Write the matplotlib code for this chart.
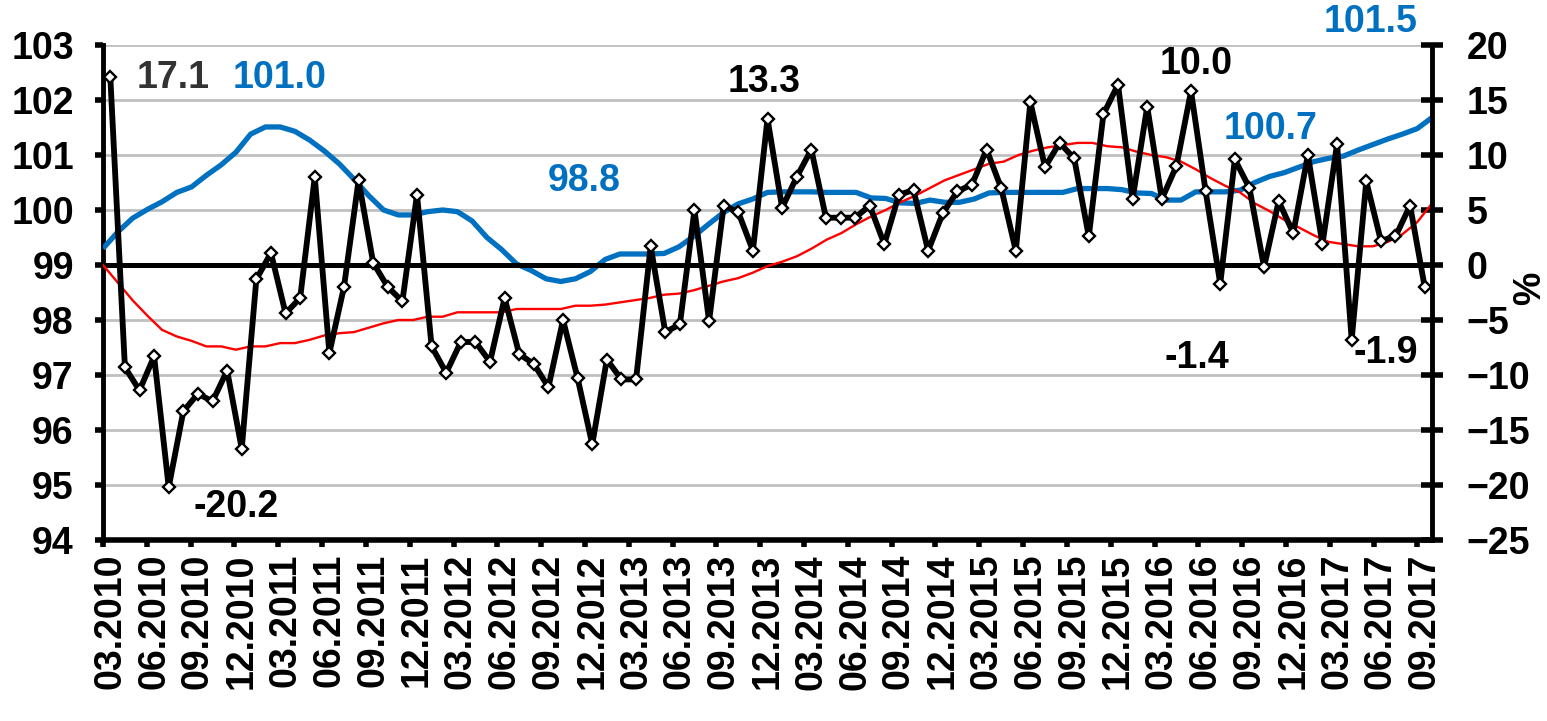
import numpy as np
import pandas as pd
import matplotlib
matplotlib.use("Agg")
import matplotlib.pyplot as plt
from matplotlib.ticker import FixedLocator, NullFormatter

plt.rcParams['font.family'] = ['Liberation Sans', 'DejaVu Sans']
plt.rcParams['font.weight'] = 'bold'

# ---------------- data ----------------
months = pd.period_range('2010-03', periods=91, freq='M').strftime('%m.%Y').tolist()

# monthly % change (right axis), black line with diamonds
pct_change = [17.1, -9.3, -11.4, -8.3, -20.2, -13.3, -11.7, -12.4, -9.6, -16.7,
              -1.3, 1.1, -4.4, -3.0, 8.0, -8.0, -2.0, 7.7, 0.2, -2.0,
              -3.3, 6.4, -7.4, -9.8, -7.0, -7.0, -8.8, -3.0, -8.1, -9.0,
              -11.1, -5.0, -10.3, -16.3, -8.6, -10.4, -10.4, 1.7, -6.1, -5.4,
              5.0, -5.1, 5.4, 4.8, 1.3, 13.3, 5.2, 8.0, 10.5, 4.3,
              4.3, 4.3, 5.4, 1.9, 6.4, 6.8, 1.3, 4.7, 6.7, 7.3,
              10.5, 7.0, 1.3, 14.8, 8.9, 11.1, 9.7, 2.6, 13.7, 16.4,
              6.0, 14.4, 6.0, 9.0, 15.8, 6.7, -1.7, 9.6, 7.0, -0.2,
              5.8, 2.9, 10.0, 1.9, 11.0, -6.8, 7.6, 2.2, 2.6, 5.4,
              -2.0]

# index (left axis), blue line
index_level = [99.30, 99.60, 99.85, 100.01, 100.15, 100.32, 100.42, 100.63, 100.82, 101.05,
               101.38, 101.51, 101.51, 101.43, 101.27, 101.07, 100.84, 100.56, 100.26, 100.00,
               99.91, 99.91, 99.97, 100.00, 99.97, 99.80, 99.50, 99.28, 99.02, 98.90,
               98.75, 98.70, 98.75, 98.88, 99.10, 99.20, 99.20, 99.20, 99.21, 99.33,
               99.52, 99.74, 99.95, 100.11, 100.20, 100.32, 100.33, 100.33, 100.33, 100.32,
               100.32, 100.32, 100.22, 100.21, 100.13, 100.12, 100.18, 100.14, 100.14, 100.20,
               100.31, 100.32, 100.32, 100.32, 100.32, 100.32, 100.39, 100.39, 100.39, 100.37,
               100.31, 100.30, 100.18, 100.18, 100.33, 100.33, 100.33, 100.36, 100.50, 100.61,
               100.68, 100.78, 100.88, 100.94, 100.98, 101.09, 101.19, 101.29, 101.38, 101.48,
               101.68]

# trend of % change (right axis), red line
trend = [0.0, -1.6, -3.2, -4.6, -5.9, -6.5, -6.9, -7.4, -7.4, -7.7,
         -7.4, -7.4, -7.1, -7.1, -6.8, -6.4, -6.2, -6.1, -5.7, -5.3,
         -5.0, -5.0, -4.7, -4.7, -4.3, -4.3, -4.3, -4.3, -4.0, -4.0,
         -4.0, -4.0, -3.7, -3.7, -3.6, -3.4, -3.2, -3.0, -2.7, -2.6,
         -2.3, -1.9, -1.5, -1.2, -0.7, -0.1, 0.3, 0.8, 1.5, 2.3,
         2.9, 3.7, 4.4, 5.0, 5.7, 6.3, 7.0, 7.7, 8.2, 8.7,
         9.2, 9.4, 10.0, 10.4, 10.7, 10.9, 11.1, 11.1, 10.8, 10.7,
         10.3, 10.0, 9.8, 9.4, 8.7, 7.9, 7.2, 6.6, 5.6, 4.9,
         4.1, 3.4, 2.7, 2.1, 1.9, 1.7, 1.7, 2.1, 2.8, 3.9,
         5.6]

left_ticks = [94, 95, 96, 97, 98, 99, 100, 101, 102, 103]
right_ticks = [-25, -20, -15, -10, -5, 0, 5, 10, 15, 20]

# annotation texts: (text, x in category units, y in left-axis units, colour)
annotations = [
    ("17.1", 4.29, 102.40, '#333333'),
    ("101.0", 11.62, 102.40, '#0070C0'),
    ("-20.2", 8.61, 94.60, 'black'),
    ("98.8", 32.45, 100.53, '#0070C0'),
    ("13.3", 44.77, 102.33, 'black'),
    ("10.0", 74.36, 102.65, 'black'),
    ("100.7", 79.43, 101.47, '#0070C0'),
    ("101.5", 86.28, 103.42, '#0070C0'),
    ("-1.4", 74.43, 97.31, 'black'),
    ("-1.9", 87.31, 97.40, 'black'),
]

# ---------------- figure ----------------
W, H = 1547, 721
fig = plt.figure(figsize=(W / 100, H / 100), dpi=100)
L, R, T, B = 103, 1432, 45, 540
ax = fig.add_axes([L / W, 1 - B / H, (R - L) / W, (B - T) / H])
ax2 = ax.twinx()

n = len(months)
x_cat = np.arange(n)
x_span = np.linspace(-0.5, n - 0.5, n)

ax.set_xlim(-0.5, n - 0.5)
ax.set_ylim(94, 103)
ax2.set_ylim(-25, 20)

# grid
ax.set_yticks(left_ticks)
ax.yaxis.grid(True, color='#C0C0C0', linewidth=2.0)
ax.set_axisbelow(True)

# blue index line (left)
ax.plot(x_span, index_level, color='#0070C0', linewidth=3.8, solid_capstyle='butt', zorder=3)

# zero line, red trend, black series (right)
ax2.axhline(0, color='black', linewidth=3.6, zorder=1)
ax2.plot(x_span, trend, color='#FF0000', linewidth=1.7, zorder=2)
ax2.plot(x_cat, pct_change, color='black', linewidth=4.2, marker='D', markersize=6.2,
         markerfacecolor='white', markeredgecolor='black', markeredgewidth=1.7, zorder=3)
ax2.set_yticks(right_ticks)

# spines
for a in (ax, ax2):
    a.spines['top'].set_visible(False)
ax2.spines['bottom'].set_visible(False)
ax2.spines['left'].set_visible(False)
ax.spines['right'].set_visible(False)
ax.spines['left'].set_linewidth(3.5)
ax.spines['bottom'].set_linewidth(4.0)
ax2.spines['right'].set_linewidth(3.5)

# y ticks
ax.tick_params(axis='y', direction='out', length=6, width=4, pad=15, labelsize=27)
ax2.tick_params(axis='y', direction='inout', length=16, width=4, pad=17, labelsize=27)
for lab in ax.get_yticklabels() + ax2.get_yticklabels():
    lab.set_fontweight('bold')

# x ticks: marks at category boundaries, labels at every 3rd category
ax.xaxis.set_major_locator(FixedLocator(np.arange(0, n, 3) - 0.5))
ax.xaxis.set_major_formatter(NullFormatter())
ax.xaxis.set_minor_locator(FixedLocator(np.arange(0, n, 3)))
ax.set_xticklabels([months[i] for i in range(0, n, 3)], minor=True,
                   rotation=90, fontsize=27, fontweight='bold')
ax.tick_params(axis='x', which='major', direction='out', length=5, width=4)
ax.tick_params(axis='x', which='minor', length=0, pad=10)

# right axis title
ax2.set_ylabel('%', fontsize=27, fontweight='bold', rotation=90)
ax2.yaxis.label.set_verticalalignment('center')
ax2.yaxis.set_label_coords((1530 - L) / (R - L), (B - 288) / (B - T))

# annotations
for txt, xx, yy, col in annotations:
    ax.text(xx, yy, txt, color=col, fontsize=27, fontweight='bold',
            ha='center', va='center', clip_on=False, zorder=5)

fig.savefig('out.png', dpi=100)
